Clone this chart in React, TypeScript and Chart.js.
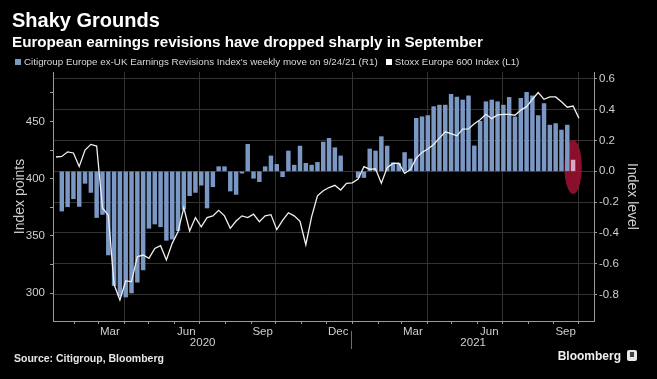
import React, { useEffect, useRef } from "react";
import { Chart, registerables } from "chart.js";

Chart.register(...registerables);

// ---------- date helpers (x axis is "days since 1 Jan 2020") ----------
const DAY_MS = 86400000;
const ORIGIN = Date.UTC(2020, 0, 1);
const toDay = (y: number, m: number, d: number) => (Date.UTC(y, m - 1, d) - ORIGIN) / DAY_MS;
const weekly = (start: number, n: number) => Array.from({ length: n }, (_, i) => start + 7 * i);

// ---------- data ----------
// Citigroup Europe ex-UK Earnings Revisions Index, weekly move (right axis)
const revisionFirstWeek = toDay(2020, 1, 17);
const revisionMoves: (number | null)[] = [
  -0.258, -0.23, -0.178, -0.228, -0.078, -0.137, -0.3, -0.28, -0.543, -0.742,
  -0.81, -0.816, -0.79, -0.72, -0.64, -0.37, -0.342, -0.36, -0.448, -0.44,
  -0.385, -0.245, -0.158, -0.137, -0.09, -0.238, -0.1, 0.03, 0.03, -0.128,
  -0.15, -0.012, 0.175, -0.045, -0.067, 0.03, 0.1, 0.045, -0.035, 0.132,
  0.04, 0.164, 0.052, 0.04, 0.058, 0.19, 0.214, 0.153, 0.1, null,
  null, -0.04, -0.04, 0.145, 0.132, 0.225, 0.164, 0.056, 0.052, 0.122,
  0.08, 0.344, 0.354, 0.362, 0.42, 0.43, 0.43, 0.5, 0.482, 0.463,
  0.49, 0.165, 0.325, 0.452, 0.463, 0.452, 0.43, 0.48, 0.353, 0.474,
  0.513, 0.49, 0.362, 0.44, 0.3, 0.31, 0.268, 0.3, 0.073,
];

// Stoxx Europe 600 Index, weekly level (left axis)
const stoxxFirstWeek = toDay(2020, 1, 10);
const stoxxLevels: number[] = [
  419, 419.5, 423.5, 422.5, 410.7, 425, 430, 428.6, 374.5, 368,
  307.5, 294, 310.6, 310, 331.8, 333.3, 330.4, 339, 341.4, 329,
  343.5, 353.7, 374.7, 354.3, 366, 358, 366, 367.5, 372.3, 367.5,
  356.6, 363, 367.5, 366, 369, 362.4, 367.5, 368.6, 355.5, 363.6,
  370.2, 367.5, 362.8, 342.3, 366.8, 385, 389.5, 392.3, 394.2, 390.1,
  396, 396.4, 399.6, 410.5, 408.3, 408.6, 396, 409.7, 413.4, 413.5,
  404.7, 408, 418, 423, 426, 430, 435.5, 441, 439.5, 437.5,
  443.4, 443.5, 448, 451.5, 456.3, 452.5, 455.8, 456.3, 456.3, 455.5,
  460, 463, 469.5, 475.3, 469.4, 471.5, 471.5, 467.2, 462.5, 463.5,
  453,
];

// ---------- axes ----------
const xStart = toDay(2020, 1, 6) + 0.4;
const xEnd = toDay(2021, 10, 19) + 0.2;

const monthTickMonths: [number, number][] = [];
for (let y = 2020; y <= 2021; y++) {
  for (let m = 1; m <= 12; m++) {
    const d = toDay(y, m, 1);
    if (d > xStart && d < xEnd) monthTickMonths.push([y, m]);
  }
}
const monthTickDays = monthTickMonths.map(([y, m]) => toDay(y, m, 1));
const quarterTickDays = monthTickMonths.filter(([, m]) => (m - 1) % 3 === 0).map(([y, m]) => toDay(y, m, 1));

const monthLabelText = ["Mar", "Jun", "Sep", "Dec", "Mar", "Jun", "Sep"];
const monthLabelMonths: [number, number][] = [
  [2020, 3], [2020, 6], [2020, 9], [2020, 12], [2021, 3], [2021, 6], [2021, 9],
];
const monthLabelDays = monthLabelMonths.map(([y, m]) => toDay(y, m, 15));

const yearBoundary = toDay(2021, 1, 1);
const yearLabelText = ["2020", "2021"];
const yearLabelDays = [(xStart + yearBoundary) / 2, (yearBoundary + xEnd) / 2];

const leftMin = 275.6;
const leftMax = 493.3;
const leftTickValues = [300, 325, 350, 375, 400, 425, 450, 475];
const rightMin = -0.972;
const rightMax = 0.645;
const rightTickValues = [-0.8, -0.6, -0.4, -0.2, 0, 0.2, 0.4, 0.6];

// highlight around the latest weekly move
const highlightDay = revisionFirstWeek + 7 * (revisionMoves.length - 1);
const highlightHalfWidthDays = 10.5;
const highlightTop = 0.203;
const highlightBottom = -0.147;

// ---------- styles ----------
const FONT = "'Liberation Sans', Arial, Helvetica, sans-serif";
const BAR = "#7b98c4";
const BAR_HIGHLIGHT = "#d9a6c4";
const LINE = "#f0f0f0";
const GRID = "#333333";
const AXIS = "#9a9a9a";
const TICK_TEXT = "#cfcfcf";

const revisionPoints = weekly(revisionFirstWeek, revisionMoves.length).map((x, i) => ({ x, y: revisionMoves[i] }));
const stoxxPoints = weekly(stoxxFirstWeek, stoxxLevels.length).map((x, i) => ({ x, y: stoxxLevels[i] }));

const annotationPlugin = {
  id: "bbgAnnotations",
  beforeDatasetsDraw(chart: any) {
    const { ctx, scales } = chart;
    const x = scales.x;
    const y1 = scales.y1;
    const cx = x.getPixelForValue(highlightDay);
    const rx = Math.abs(x.getPixelForValue(highlightDay + highlightHalfWidthDays) - cx);
    const top = y1.getPixelForValue(highlightTop);
    const bottom = y1.getPixelForValue(highlightBottom);
    ctx.save();
    ctx.fillStyle = "rgba(150,16,46,0.92)";
    ctx.beginPath();
    ctx.ellipse(cx, (top + bottom) / 2, rx, (bottom - top) / 2, 0, 0, Math.PI * 2);
    ctx.fill();
    ctx.restore();
  },
  afterDraw(chart: any) {
    const { ctx, scales } = chart;
    const px = Math.round(scales.x.getPixelForValue(yearBoundary)) - 0.5;
    const x3 = scales.x3;
    ctx.save();
    ctx.strokeStyle = "#6e6e6e";
    ctx.lineWidth = 1;
    ctx.beginPath();
    ctx.moveTo(px, x3.top - 6);
    ctx.lineTo(px, x3.top + 12);
    ctx.stroke();
    ctx.restore();
  },
};

function ChartCanvas() {
  const ref = useRef<HTMLCanvasElement | null>(null);
  useEffect(() => {
    if (!ref.current) return;
    const tickFont = { family: FONT, size: 11.5 };
    const chart = new Chart(ref.current, {
      type: "bar",
      data: {
        datasets: [
          {
            type: "line",
            label: "Stoxx Europe 600 Index (L1)",
            data: stoxxPoints as any,
            borderColor: LINE,
            borderWidth: 1.3,
            pointRadius: 0,
            tension: 0,
            xAxisID: "x",
            yAxisID: "y",
            order: 0,
          } as any,
          {
            type: "bar",
            label: "Citigroup Europe ex-UK Earnings Revisions Index's weekly move on 9/24/21 (R1)",
            data: revisionPoints as any,
            backgroundColor: (c: any) => (c.dataIndex === revisionMoves.length - 1 ? BAR_HIGHLIGHT : BAR),
            borderWidth: 0,
            barThickness: 3.8,
            xAxisID: "x",
            yAxisID: "y1",
            order: 1,
          } as any,
        ],
      },
      options: {
        animation: false,
        responsive: true,
        maintainAspectRatio: false,
        devicePixelRatio: 1,
        layout: { padding: { top: 72, left: 0, right: 0, bottom: 0 } },
        plugins: {
          legend: { display: false },
          tooltip: { enabled: false },
          title: { display: false },
        },
        scales: {
          x: {
            type: "linear",
            min: xStart,
            max: xEnd,
            offset: false,
            weight: 0,
            afterBuildTicks: (s: any) => {
              s.ticks = monthTickDays.map((v) => ({ value: v }));
            },
            afterFit: (s: any) => {
              s.height = 4;
            },
            ticks: { display: false },
            grid: {
              offset: false,
              drawOnChartArea: true,
              color: (c: any) => (c.tick && quarterTickDays.includes(c.tick.value) ? GRID : "rgba(0,0,0,0)"),
              tickColor: AXIS,
              tickLength: 3,
            },
            border: { display: true, color: AXIS },
          },
          x2: {
            type: "linear",
            position: "bottom",
            min: xStart,
            max: xEnd,
            offset: false,
            weight: 1,
            afterBuildTicks: (s: any) => {
              s.ticks = monthLabelDays.map((v) => ({ value: v }));
            },
            afterFit: (s: any) => {
              s.height = 12;
            },
            grid: { display: false, drawTicks: false, offset: false },
            border: { display: false },
            ticks: {
              autoSkip: false,
              maxRotation: 0,
              minRotation: 0,
              padding: 0,
              color: TICK_TEXT,
              font: tickFont,
              callback: (_v: any, i: number) => monthLabelText[i],
            },
          },
          x3: {
            type: "linear",
            position: "bottom",
            min: xStart,
            max: xEnd,
            offset: false,
            weight: 2,
            afterBuildTicks: (s: any) => {
              s.ticks = yearLabelDays.map((v) => ({ value: v }));
            },
            afterFit: (s: any) => {
              s.height = 42;
            },
            grid: { display: false, drawTicks: false, offset: false },
            border: { display: false },
            ticks: {
              autoSkip: false,
              maxRotation: 0,
              minRotation: 0,
              padding: -1.5,
              color: TICK_TEXT,
              font: tickFont,
              callback: (_v: any, i: number) => yearLabelText[i],
            },
          },
          y: {
            type: "linear",
            position: "left",
            min: leftMin,
            max: leftMax,
            afterBuildTicks: (s: any) => {
              s.ticks = leftTickValues.map((v) => ({ value: v }));
            },
            afterFit: (s: any) => {
              s.width = 53;
            },
            grid: { drawOnChartArea: false, tickColor: AXIS, tickLength: 3 },
            border: { display: true, color: AXIS },
            ticks: {
              autoSkip: false,
              padding: 5,
              color: TICK_TEXT,
              font: tickFont,
              callback: (v: any) => (Number(v) % 50 === 0 ? String(v) : ""),
            },
            title: {
              display: true,
              text: "Index points",
              color: TICK_TEXT,
              font: { family: FONT, size: 14 },
              padding: { top: 12, bottom: 0 },
            },
          },
          y1: {
            type: "linear",
            position: "right",
            min: rightMin,
            max: rightMax,
            afterBuildTicks: (s: any) => {
              s.ticks = rightTickValues.map((v) => ({ value: v }));
            },
            afterFit: (s: any) => {
              s.width = 63;
            },
            grid: { drawOnChartArea: true, color: GRID, tickColor: AXIS, tickLength: 3 },
            border: { display: true, color: AXIS },
            ticks: {
              autoSkip: false,
              padding: 2,
              color: TICK_TEXT,
              font: tickFont,
              callback: (v: any) => (Math.abs(Number(v)) < 1e-9 ? 0 : Number(v)).toFixed(1),
            },
            title: {
              display: true,
              text: "Index level",
              color: TICK_TEXT,
              font: { family: FONT, size: 14 },
              padding: { top: 17, bottom: 0 },
            },
          },
        },
      } as any,
      plugins: [annotationPlugin],
    });
    return () => chart.destroy();
  }, []);
  return <canvas ref={ref} />;
}

export default function App() {
  useEffect(() => {
    document.body.style.margin = "0";
    document.body.style.background = "#000";
  }, []);
  const abs = (s: React.CSSProperties): React.CSSProperties => ({ position: "absolute", whiteSpace: "nowrap", ...s });
  return (
    <div style={{ position: "relative", width: 657, height: 379, background: "#000", overflow: "hidden", fontFamily: FONT }}>
      <div style={{ position: "absolute", left: 0, top: 0, width: 657, height: 379 }}>
        <ChartCanvas />
      </div>
      <div style={abs({ left: 12, top: 10, fontSize: 20, lineHeight: "20px", fontWeight: 700, color: "#fff" })}>Shaky Grounds</div>
      <div style={abs({ left: 12, top: 34, fontSize: 15.2, lineHeight: "15px", fontWeight: 700, color: "#fff" })}>
        European earnings revisions have dropped sharply in September
      </div>
      <div style={abs({ left: 15, top: 57, fontSize: 9.8, lineHeight: "10px", color: "#d8d8d8", display: "flex", alignItems: "center" })}>
        <span style={{ display: "inline-block", width: 6, height: 6, background: BAR, marginRight: 3 }} />
        <span>Citigroup Europe ex-UK Earnings Revisions Index's weekly move on 9/24/21 (R1)</span>
        <span style={{ display: "inline-block", width: 6, height: 6, background: "#fff", marginLeft: 8, marginRight: 3 }} />
        <span>Stoxx Europe 600 Index (L1)</span>
      </div>
      <div style={abs({ left: 14, top: 353, fontSize: 10.5, lineHeight: "10px", fontWeight: 700, color: "#e6e6e6" })}>
        Source: Citigroup, Bloomberg
      </div>
      <div style={abs({ right: 36, top: 350, fontSize: 12, lineHeight: "12px", fontWeight: 700, color: "#f0f0f0" })}>Bloomberg</div>
      <div style={abs({ left: 627, top: 350, width: 10, height: 11, borderRadius: 2, background: "#e8e8e8" })}>
        <div style={{ position: "absolute", left: 3, top: 2, width: 4, height: 5, background: "#444" }} />
      </div>
    </div>
  );
}
